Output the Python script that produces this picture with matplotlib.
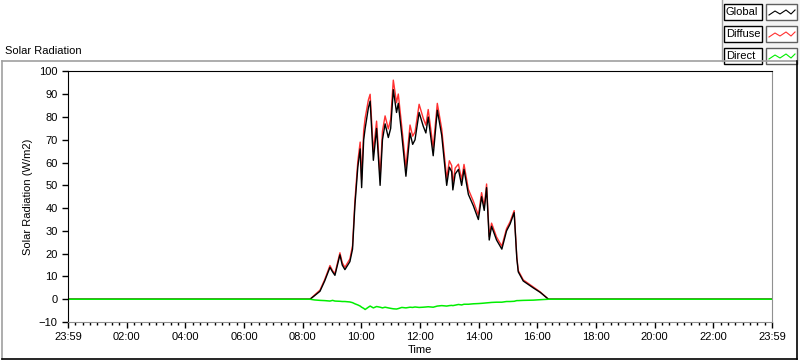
import numpy as np
import matplotlib
matplotlib.use('Agg')
import matplotlib.pyplot as plt
from matplotlib.patches import Rectangle
from matplotlib.lines import Line2D

# time of day in hours (0 = 23:59 previous day, 24 = 23:59)
hours = [0, 8.25, 8.4, 8.59, 8.75, 8.93, 9.02, 9.10, 9.27, 9.35,
         9.44, 9.61, 9.7, 9.78, 9.88, 9.96, 10.01, 10.08, 10.13, 10.24,
         10.3, 10.41, 10.52, 10.64, 10.72, 10.81, 10.92, 11.0, 11.09, 11.2,
         11.26, 11.38, 11.52, 11.66, 11.75, 11.83, 11.97, 12.11, 12.2, 12.28,
         12.45, 12.59, 12.74, 12.91, 13.0, 13.08, 13.12, 13.2, 13.31, 13.42,
         13.5, 13.65, 13.82, 13.99, 14.1, 14.19, 14.27, 14.36, 14.44, 14.61,
         14.79, 14.95, 15.07, 15.21, 15.3, 15.35, 15.52, 15.86, 16.1, 16.38,
         24]
global_rad = [0, 0, 1.5, 3.5, 8, 14, 12, 10.5, 19.5, 15,
              13, 16.5, 22, 41, 58, 66, 49, 70, 75, 84,
              87, 61, 75, 50, 70, 77, 71, 75, 92, 82,
              86, 72, 54, 73, 68, 70, 82, 76, 73, 80,
              63, 83, 72, 50, 58, 56, 48, 55, 57, 50,
              57, 46, 41, 35, 45, 39, 49, 26, 32, 26,
              22, 30, 33, 38, 18, 12, 8, 5, 3, 0,
              0]
diffuse_rad = [0, 0, 1.8, 4.0, 8.6, 14.8, 12.5, 11.3, 20.4, 16,
               14, 17.7, 23.5, 43, 60.5, 69, 52.5, 74, 79.5, 87.5,
               90, 64.8, 78.2, 53.5, 73.8, 80.5, 74.8, 79, 96.2, 86.3,
               90.1, 75.6, 57.8, 76.5, 71.6, 73.4, 85.6, 79.5, 76.4, 83.3,
               66.5, 86, 74.8, 53, 60.8, 58.7, 50.8, 57.6, 59.3, 52.5,
               59.2, 48.2, 43, 36.9, 46.8, 40.7, 50.6, 27.5, 33.4, 27.3,
               23.3, 31, 34, 38.9, 18.6, 12.6, 8.5, 5.4, 3.2, 0,
               0]
direct_rad = [0, 0, -0.3, -0.5, -0.6, -0.8, -0.5, -0.8, -0.9, -1,
              -1, -1.2, -1.5, -2, -2.5, -3, -3.5, -4, -4.5, -3.5,
              -3, -3.8, -3.2, -3.5, -3.8, -3.5, -3.8, -4, -4.2, -4.3,
              -4.1, -3.6, -3.8, -3.5, -3.6, -3.4, -3.6, -3.5, -3.4, -3.3,
              -3.5, -3.0, -2.8, -3.0, -2.8, -2.7, -2.8, -2.6, -2.3, -2.5,
              -2.2, -2.2, -2.0, -1.9, -1.8, -1.7, -1.6, -1.5, -1.4, -1.3,
              -1.3, -1.0, -1.0, -0.9, -0.6, -0.6, -0.5, -0.4, -0.2, 0,
              0]
series_names = ['Global', 'Diffuse', 'Direct']
series_colors = ['black', '#ff3030', '#00ee00']
xtick_labels = ['23:59', '02:00', '04:00', '06:00', '08:00', '10:00', '12:00',
                '14:00', '16:00', '18:00', '20:00', '22:00', '23:59']

plt.rcParams['font.family'] = ['Liberation Sans', 'DejaVu Sans']
fig = plt.figure(figsize=(8, 3.61), dpi=100)
fig.patch.set_facecolor('white')

ax = fig.add_axes([0.085, 0.108, 0.88, 0.694])
ax.plot(hours, diffuse_rad, color=series_colors[1], lw=1.0)
ax.plot(hours, global_rad, color=series_colors[0], lw=1.0)
ax.plot(hours, direct_rad, color=series_colors[2], lw=1.1)

ax.set_xlim(0, 24)
ax.set_ylim(-10, 100)
ax.set_yticks(np.arange(-10, 101, 10))
ax.set_xticks(np.arange(0, 25, 2))
ax.set_xticklabels(xtick_labels)
ax.set_xticks(np.arange(0, 24.01, 0.25), minor=True)
ax.tick_params(axis='both', which='major', labelsize=8, length=4, width=1, direction='out')
ax.tick_params(axis='x', which='minor', length=2.5, width=1, direction='out')
ax.set_ylabel('Solar Radiation (W/m2)', fontsize=8, labelpad=4)
ax.set_xlabel('Time', fontsize=8, labelpad=2)
for s in ['left', 'top']:
    ax.spines[s].set_color('black')
for s in ['right', 'bottom']:
    ax.spines[s].set_color('#909090')

# outer frame
fig.add_artist(Line2D([0.002, 0.996], [1 - 61 / 361, 1 - 61 / 361], color='#a0a0a0', lw=1.2))
fig.add_artist(Line2D([0.002, 0.002], [1 - 61 / 361, 1 - 359 / 361], color='#a0a0a0', lw=1.2))
fig.add_artist(Line2D([0.996, 0.996], [1 - 61 / 361, 1 - 359 / 361], color='black', lw=1.2))
fig.add_artist(Line2D([0.002, 0.996], [1 - 359 / 361, 1 - 359 / 361], color='black', lw=1.2))
fig.text(0.006, 1 - 51 / 361, 'Solar Radiation', fontsize=8, va='center', ha='left')

# legend panel
fig.add_artist(Rectangle((722 / 800, 1 - 61 / 361), 78 / 800, 61 / 361,
                         facecolor='#f4f4f4', edgecolor='none'))
fig.add_artist(Line2D([722 / 800, 722 / 800], [1, 1 - 61 / 361], color='#a0a0a0', lw=1))
for i, (name, col) in enumerate(zip(series_names, series_colors)):
    top = 4 + i * 22
    fig.add_artist(Rectangle((724 / 800, 1 - (top + 16) / 361), 38 / 800, 16 / 361,
                             facecolor='white', edgecolor='black', lw=1))
    fig.text(726 / 800, 1 - (top + 8) / 361, name, fontsize=8, va='center', ha='left')
    fig.add_artist(Rectangle((766 / 800, 1 - (top + 16) / 361), 31 / 800, 16 / 361,
                             facecolor='white', edgecolor='#606060', lw=1))
    zx = np.array([769, 775, 780, 786, 791, 795]) / 800
    zy = 1 - (top + np.array([11, 7, 10, 6, 10, 6])) / 361
    fig.add_artist(Line2D(zx, zy, color=col, lw=0.8))

fig.savefig('out.png', dpi=100)
